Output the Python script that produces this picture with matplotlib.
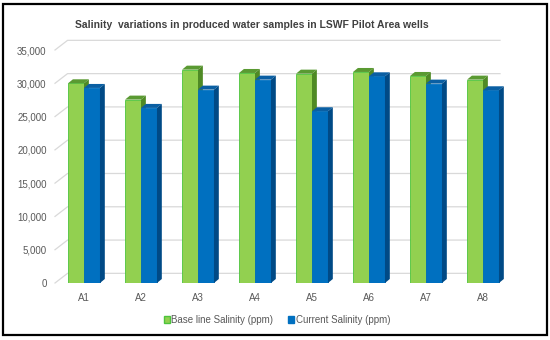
import matplotlib
matplotlib.use("Agg")
from matplotlib import pyplot as plt
from matplotlib.patches import Polygon, Patch, Rectangle

wells = ["A1", "A2", "A3", "A4", "A5", "A6", "A7", "A8"]
baseline = [30000, 27550, 32050, 31550, 31450, 31700, 31100, 30550]
current = [29300, 26300, 29050, 30550, 25800, 31050, 29950, 28950]
yticks = [0, 5000, 10000, 15000, 20000, 25000, 30000, 35000]

plt.rcParams["font.family"] = ["Liberation Sans", "DejaVu Sans"]

fig = plt.figure(figsize=(5.5, 3.4), dpi=100)
ax = fig.add_axes([55 / 550, 57 / 340, 445 / 550, 233 / 340])
ax.set_xlim(-0.509, 7.298)
ax.set_ylim(0, 35000)
for s in ax.spines.values():
    s.set_visible(False)

# back wall gridlines (pseudo 3D)
gdx, gdy = 0.22, 1450
xl, xr = ax.get_xlim()
for v in yticks:
    ax.plot([xl, xl + gdx, xr], [v, v + gdy, v + gdy], color="#d9d9d9",
            lw=0.9, clip_on=False, zorder=0)

w = 0.28
ddx, ddy = 0.085, 600
series = [
    (baseline, -w, "#92d050", "#5a9a32", "#4f8a25", "#4cc43c"),
    (current, 0, "#0070c0", "#0a5fa3", "#004a86", "#0070c0"),
]
for i in range(len(wells)):
    for vals, off, front, top, side, edge in series:
        x0 = i + off
        v = vals[i]
        ax.bar(x0, v, width=w, align="edge", color=front, edgecolor=edge,
               linewidth=0.6, zorder=2)
        ax.add_patch(Polygon([(x0, v), (x0 + ddx, v + ddy), (x0 + w + ddx, v + ddy), (x0 + w, v)],
                             closed=True, facecolor=top, edgecolor="none", zorder=2, clip_on=False))
        ax.add_patch(Polygon([(x0 + w, 0), (x0 + w + ddx, ddy), (x0 + w + ddx, v + ddy), (x0 + w, v)],
                             closed=True, facecolor=side, edgecolor="none", zorder=2, clip_on=False))

ax.set_xticks(range(len(wells)))
ax.set_xticklabels(wells)
ax.set_yticks(yticks)
ax.set_yticklabels([f"{t:,}" for t in yticks])
ax.tick_params(length=0, labelsize=7, colors="#595959")
ax.tick_params(axis="x", pad=7)
ax.tick_params(axis="y", pad=6)

fig.text(252 / 550, 1 - 25 / 340, "Salinity  variations in produced water samples in LSWF Pilot Area wells",
         ha="center", va="center", fontsize=7.5, fontweight="bold", color="#404040")

handles = [Patch(facecolor="#92d050", edgecolor="#4cc43c", label="Base line Salinity (ppm)"),
           Patch(facecolor="#0070c0", edgecolor="#0070c0", label="Current Salinity (ppm)")]
fig.legend(handles=handles, loc="center", bbox_to_anchor=(277 / 550, 1 - 320 / 340), ncol=2,
           frameon=False, fontsize=7, handlelength=0.6, handleheight=0.6, handletextpad=0.2,
           columnspacing=1.5, labelcolor="#595959")

fig.patches.append(Rectangle((3 / 550, 5 / 340), 544 / 550, 331 / 340, transform=fig.transFigure,
                             fill=False, edgecolor="black", linewidth=1.6))

fig.savefig("out.png", dpi=100)
